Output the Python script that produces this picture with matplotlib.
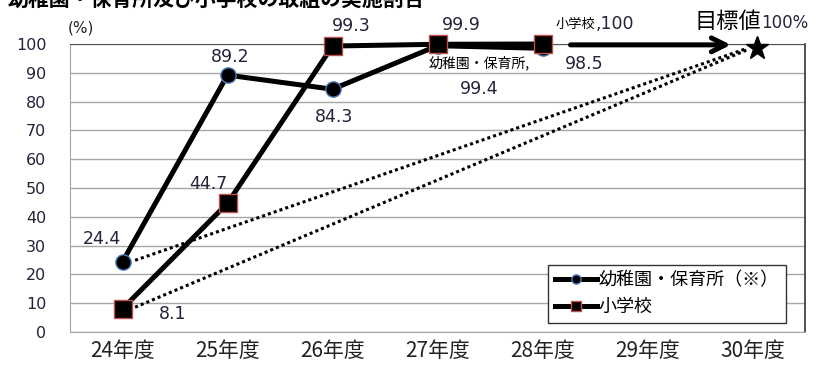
import matplotlib.pyplot as plt

# --------------------------------------------------------------------------------------------------
# DATA:
years = ["24年度", "25年度", "26年度", "27年度", "28年度", "29年度", "30年度"]
kinder = [24.4, 89.2, 84.3, 99.4, 98.5]      # 幼稚園・保育所（※）
school = [8.1, 44.7, 99.3, 99.9, 100.0]      # 小学校
target = 100                                 # 目標値 (30年度)
yticks = list(range(0, 101, 10))

JP = ["Noto Sans CJK JP", "DejaVu Sans"]
NUM = ["DejaVu Sans", "Noto Sans CJK JP"]
NUM_COLOR = "#23233a"

# --------------------------------------------------------------------------------------------------
# FIGURE:
fig = plt.figure(figsize=(8.19, 3.67), dpi=100)
ax = fig.add_axes([70 / 819, 35 / 367, 735 / 819, 288 / 367])

x_k = list(range(len(kinder)))
x_s = list(range(len(school)))
x_t = len(years) - 1

# dotted lines from the 24年度 values to the target
ax.plot([x_k[0] + 0.12, x_t - 0.05], [kinder[0] + 0.5, target - 1.5], color="black",
        linestyle=(0, (1, 1)), linewidth=2.2, zorder=2)
ax.plot([x_s[0] + 0.12, x_t - 0.05], [school[0] + 0.5, target - 2], color="black",
        linestyle=(0, (1, 1)), linewidth=2.2, zorder=2)

ax.plot(x_k, kinder, color="black", linewidth=3.6, marker="o", markersize=11,
        markerfacecolor="black", markeredgecolor="#4a7ab8", markeredgewidth=1,
        label="幼稚園・保育所（※）", zorder=3, clip_on=False)
ax.plot(x_s, school, color="black", linewidth=3.6, marker="s", markersize=13,
        markerfacecolor="black", markeredgecolor="#c0504d", markeredgewidth=1,
        label="小学校", zorder=4, clip_on=False)

# arrow towards the target
ax.annotate("", xy=(5.82, 99.7), xytext=(4.24, 99.7),
            arrowprops=dict(arrowstyle="->,head_length=1.0,head_width=0.5",
                            color="black", linewidth=3.6), zorder=4, annotation_clip=False)
ax.plot([x_t + 0.04], [target - 1.5], marker="*", markersize=17, color="black",
        linestyle="none", zorder=5, clip_on=False)

# data labels
lab = dict(fontsize=12.5, color=NUM_COLOR, family=NUM, ha="center", va="center",
           textcoords="offset pixels", annotation_clip=False)
ax.annotate("24.4", (x_k[0], kinder[0]), xytext=(-21, 23), **lab)
ax.annotate("89.2", (x_k[1], kinder[1]), xytext=(3, 18), **lab)
ax.annotate("84.3", (x_k[2], kinder[2]), xytext=(2, -28), **lab)
ax.annotate("98.5", (x_k[4], kinder[4]), xytext=(42, -16), **lab)
ax.annotate("99.4", (x_k[3], kinder[3]), xytext=(42, -43), **lab)
ax.annotate("幼稚園・保育所,", (x_k[3], kinder[3]), xytext=(42, -17), textcoords="offset pixels",
            fontsize=10, color="black", family=JP, ha="center", va="center")
ax.annotate("8.1", (x_s[0], school[0]), xytext=(50, -5), **lab)
ax.annotate("44.7", (x_s[1], school[1]), xytext=(-19, 19), **lab)
ax.annotate("99.3", (x_s[2], school[2]), xytext=(19, 20), **lab)
ax.annotate("99.9", (x_s[3], school[3]), xytext=(24, 19), **lab)
ax.annotate("小学校", (x_s[4], school[4]), xytext=(53, 20), textcoords="offset pixels",
            fontsize=9.5, color="black", family=JP, ha="right", va="center",
            annotation_clip=False)
ax.annotate(",100", (x_s[4], school[4]), xytext=(53, 20), **{**lab, "ha": "left"})
ax.annotate("目標値", (x_t, target), xytext=(9, 22), textcoords="offset pixels",
            fontsize=16, color="black", family=JP, ha="right", va="center",
            annotation_clip=False)
ax.annotate("100%", (x_t, target), xytext=(9, 21), **{**lab, "ha": "left", "fontsize": 12})

# axes formatting
ax.set_xlim(-0.5, len(years) - 0.5)
ax.set_ylim(0, 100)
ax.set_xticks(range(len(years)))
ax.set_xticklabels(years, family=JP, fontsize=15, color="#222222")
ax.set_yticks(yticks)
ax.set_yticklabels([str(v) for v in yticks], family=NUM, fontsize=11.5, color=NUM_COLOR)
ax.tick_params(axis="y", length=0, pad=17)
ax.tick_params(axis="x", length=0, pad=6)
ax.yaxis.grid(True, color="#a6a6a6", linewidth=1)
ax.set_axisbelow(True)
for side in ["left", "bottom"]:
    ax.spines[side].set_color("#a6a6a6")
ax.spines["top"].set_color("#555555")
ax.spines["right"].set_color("#333333")
ax.spines["right"].set_linewidth(1.2)

ax.text(-0.003, 1.056, "(%)", transform=ax.transAxes, fontsize=11, family=NUM,
        color="#222222", ha="left", va="center")

leg = ax.legend(loc="lower right", bbox_to_anchor=(0.974, 0.031), borderaxespad=0,
                prop={"family": JP, "size": 13}, frameon=True, fancybox=False,
                edgecolor="#333333", framealpha=1, handlelength=2.3, handletextpad=0.1,
                borderpad=0.4, labelspacing=0.45, markerscale=0.6)
leg.get_frame().set_linewidth(1)

# cut-off title at the top of the image
fig.text(8 / 819, 1 - 6 / 367, "幼稚園・保育所及び小学校の取組の実施割合", fontsize=15,
         fontweight="bold", family=JP, ha="left", va="baseline")

fig.savefig("out.png", dpi=100)
